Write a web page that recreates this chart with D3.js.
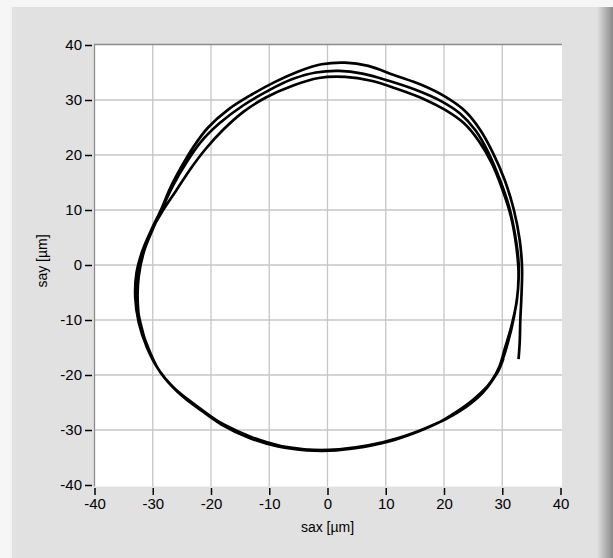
<!DOCTYPE html>
<html>
<head>
<meta charset="utf-8">
<script src="https://cdn.jsdelivr.net/npm/d3@7"></script>
<style>
  html, body { margin: 0; padding: 0; background: #f6f6f6; }
  svg { display: block; }
  .axis text { font-family: "Liberation Sans", Arial, sans-serif; font-size: 15px; fill: #000; }
  .axis line { stroke: #000; stroke-width: 1.5; }
  .label { font-family: "Liberation Sans", Arial, sans-serif; font-size: 14px; fill: #000; }
</style>
</head>
<body>
<svg id="chart" width="613" height="558"></svg>
<script>
"use strict";

// tick values for both axes
const ticks = [-40, -30, -20, -10, 0, 10, 20, 30, 40];

// trace, three passes round the loop (clockwise)
const sax = [
  30.2, 29.2, 27.5, 25.0, 22.0, 19.0, 15.5, 11.0, 6.0, 1.0, -4.0, -9.0, -14.0, -18.5, -22.5, -26.2,
  -29.0, -30.8, -32.2, -32.6, -32.4, -31.5, -30.0, -28.3, -26.5, -24.3, -21.8, -18.5, -14.5, -10.0,
  -6.0, -2.0, 2.0, 6.0, 10.5, 15.0, 19.5, 22.8, 25.4, 27.6, 29.6, 31.2, 32.2, 32.8, 32.7, 32.0, 31.0,
  29.8, 28.6, 26.6, 23.8, 20.5, 16.5, 12.0, 7.0, 2.0, -3.0, -8.0, -13.0, -17.8, -22.0, -25.8, -28.7,
  -30.7, -32.0, -32.8, -32.7, -32.0, -30.6, -28.5, -26.0, -23.5, -21.0, -18.0, -14.5, -10.5, -6.0,
  -1.5, 3.0, 7.5, 12.0, 16.5, 20.2, 23.4, 26.0, 28.2, 30.0, 31.5, 32.4, 32.8, 32.5, 31.6, 30.5,
  29.5, 28.2, 26.0, 23.2, 19.8, 15.8, 11.5, 6.5, 1.5, -3.5, -8.5, -13.5, -18.2, -22.2, -26.0, -28.9,
  -31.0, -32.4, -33.0, -32.8, -31.8, -30.2, -28.6, -27.0, -25.0, -23.0, -20.5, -17.0, -13.0, -9.0,
  -5.0, -1.0, 3.0, 7.0, 11.5, 16.0, 20.2, 23.6, 26.2, 28.4, 30.4, 32.0, 33.0, 33.4, 33.3, 33.1, 33.0,
  32.8
];
const say = [
  -17.0, -19.5, -22.0, -24.5, -26.8, -28.7, -30.3, -31.9, -33.1, -33.6, -33.5, -32.7, -31.0, -28.6,
  -25.6, -22.5, -19.0, -15.0, -10.5, -6.0, -2.0, 2.5, 6.5, 10.5, 14.5, 18.5, 22.3, 25.8, 29.0, 31.8,
  33.8, 35.0, 35.3, 34.8, 33.5, 31.9, 29.8, 27.5, 24.5, 20.5, 15.5, 10.5, 5.5, 0.5, -4.5, -9.5, -14.0,
  -18.0, -20.5, -23.3, -25.8, -27.9, -29.8, -31.5, -32.8, -33.5, -33.6, -32.9, -31.3, -29.0, -26.2,
  -23.0, -19.5, -15.5, -11.0, -6.5, -2.5, 1.5, 5.5, 9.5, 13.5, 17.5, 21.0, 24.5, 27.8, 30.5, 32.6,
  34.0, 34.2, 33.5, 32.0, 30.2, 28.2, 25.8, 22.5, 18.5, 13.8, 8.8, 3.5, -1.5, -6.5, -11.0, -15.0,
  -18.5, -21.0, -23.8, -26.2, -28.3, -30.2, -31.8, -33.0, -33.7, -33.7, -33.0, -31.4, -29.0, -26.0,
  -22.8, -19.2, -15.0, -10.5, -6.0, -1.5, 2.5, 6.5, 10.0, 14.0, 18.0, 21.5, 25.0, 28.3, 31.0, 33.3,
  35.2, 36.5, 36.8, 36.2, 34.5, 32.8, 30.6, 28.0, 24.6, 20.4, 15.5, 10.0, 4.5, -0.5, -5.5, -10.0,
  -14.0, -17.1
];

const points = sax.map((v, i) => [v, say[i]]);

var graph = {};
graph.svg = d3.select("#chart");
graph.width = +graph.svg.attr("width");
graph.height = +graph.svg.attr("height");

// panel frame
var defs = graph.svg.append("defs");
var shade = defs.append("linearGradient").attr("id", "shade-right");
shade.append("stop").attr("offset", "0%").attr("stop-color", "#e1e1e1");
shade.append("stop").attr("offset", "100%").attr("stop-color", "#8a8a8a");

graph.svg.append("rect")
  .attr("x", 10).attr("y", 7)
  .attr("width", graph.width - 10).attr("height", graph.height - 7)
  .attr("fill", "#e1e1e1");
graph.svg.append("rect")
  .attr("x", 597).attr("y", 7)
  .attr("width", 16).attr("height", graph.height - 7)
  .attr("fill", "url(#shade-right)");
graph.svg.append("line")
  .attr("x1", 11).attr("x2", 11).attr("y1", 7).attr("y2", graph.height)
  .attr("stroke", "#f2f2f2").attr("stroke-width", 2);

// scales
var x = d3.scaleLinear().domain([-40, 40]).range([94.5, 560.5]);
var y = d3.scaleLinear().domain([-40, 40]).range([485, 45]);

// plot area
graph.svg.append("rect")
  .attr("x", 94).attr("y", 44)
  .attr("width", 468).attr("height", 442.5)
  .attr("fill", "#fff");

var grid = graph.svg.append("g").attr("class", "grid");
grid.selectAll("line.gx")
  .data(ticks.slice(1, -1))
  .enter().append("line")
  .attr("x1", d => x(d)).attr("x2", d => x(d))
  .attr("y1", 45).attr("y2", 486.5)
  .attr("stroke", "#c6c6c6").attr("stroke-width", 1.3);
grid.selectAll("line.gy")
  .data(ticks.slice(1, -1))
  .enter().append("line")
  .attr("x1", 95).attr("x2", 562)
  .attr("y1", d => y(d)).attr("y2", d => y(d))
  .attr("stroke", "#c6c6c6").attr("stroke-width", 1.3);

// plot border (left and top)
graph.svg.append("path")
  .attr("d", "M94.5,486.5V44.5H562")
  .attr("fill", "none")
  .attr("stroke", "#8c8c8c")
  .attr("stroke-width", 1.3);

// the trace
graph.svg.append("path")
  .datum(points)
  .attr("d", d3.line()
    .x(d => x(d[0]))
    .y(d => y(d[1]))
    .curve(d3.curveCatmullRom.alpha(0.5)))
  .attr("fill", "none")
  .attr("stroke", "#000")
  .attr("stroke-width", 2.7)
  .attr("stroke-linejoin", "round");

// axes (plain hyphen for minus, like the original)
var fmt = d => String(d);
var xAxis = d3.axisBottom(x).tickValues(ticks).tickSize(7).tickPadding(3).tickFormat(fmt);
graph.svg.append("g")
  .attr("class", "axis axis--x")
  .attr("transform", "translate(0,488)")
  .call(xAxis)
  .call(g => g.select(".domain").remove());

var yAxis = d3.axisLeft(y).tickValues(ticks).tickSize(7).tickPadding(3).tickFormat(fmt);
graph.svg.append("g")
  .attr("class", "axis axis--y")
  .attr("transform", "translate(92,0)")
  .call(yAxis)
  .call(g => g.select(".domain").remove());

// axis titles
graph.svg.append("text")
  .attr("class", "label")
  .attr("x", 327.5).attr("y", 527)
  .attr("dy", "0.35em")
  .attr("text-anchor", "middle")
  .text("sax [µm]");

graph.svg.append("text")
  .attr("class", "label")
  .attr("transform", "translate(42,261) rotate(-90)")
  .attr("dy", "0.35em")
  .attr("text-anchor", "middle")
  .text("say [µm]");
</script>
</body>
</html>
